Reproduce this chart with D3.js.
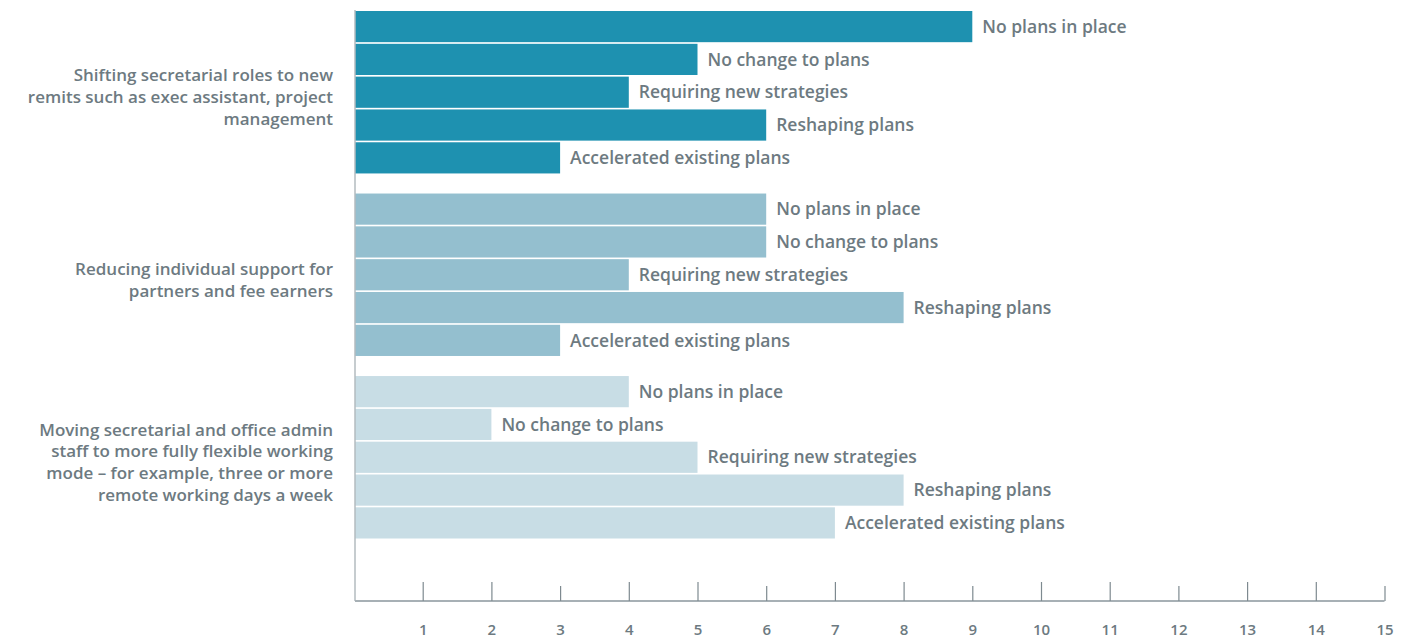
<!DOCTYPE html>
<html>
<head>
<meta charset="utf-8">
<script src="https://cdn.jsdelivr.net/npm/d3@7"></script>
<style>
  html, body { margin: 0; padding: 0; background: #fff; }
  svg { display: block; font-family: "Open Sans", Lato, sans-serif; }
</style>
</head>
<body>
<svg id="chart" width="1423" height="640"></svg>
<script>
// Initiatives (one group of bars each)
const initiatives = [
  ["Shifting secretarial roles to new", "remits such as exec assistant, project", "management"],
  ["Reducing individual support for", "partners and fee earners"],
  ["Moving secretarial and office admin", "staff to more fully flexible working", "mode – for example, three or more", "remote working days a week"]
];
// Planning status (one bar per status inside each group)
const statuses = ["No plans in place", "No change to plans", "Requiring new strategies", "Reshaping plans", "Accelerated existing plans"];
// Number of responses per status, by initiative
const shiftingRoles   = [9, 5, 4, 6, 3];
const reducingSupport = [6, 6, 4, 8, 3];
const flexibleWorking = [4, 2, 5, 8, 7];
const groupColors = ["#1e91b0", "#94bfcf", "#c8dde5"];
const tickValues = [1, 2, 3, 4, 5, 6, 7, 8, 9, 10, 11, 12, 13, 14, 15];

const seriesValues = [shiftingRoles, reducingSupport, flexibleWorking];
const svg = d3.select("#chart");
const textColor = "#6d7a81";

const x = d3.scaleLinear().domain([0, 15]).range([354, 1384.5]);
const yGroup = d3.scaleBand().domain(d3.range(initiatives.length)).range([11, 538.5]).paddingInner(0.11);
const yRow = d3.scaleBand().domain(statuses).range([0, yGroup.bandwidth()]).paddingInner(0.05);
const baseX = 355;

// bars and their status labels
seriesValues.forEach((vals, gi) => {
  const g = svg.append("g").attr("transform", `translate(0,${yGroup(gi)})`);
  const rows = statuses.map((s, i) => ({ status: s, value: vals[i] }));
  g.selectAll("rect").data(rows).join("rect")
    .attr("x", baseX)
    .attr("y", d => yRow(d.status))
    .attr("width", d => x(d.value) - baseX)
    .attr("height", yRow.bandwidth())
    .attr("fill", groupColors[gi]);
  g.selectAll("text").data(rows).join("text")
    .attr("x", d => x(d.value) + 10)
    .attr("y", d => yRow(d.status) + yRow.bandwidth() / 2)
    .attr("dy", "0.35em")
    .attr("fill", textColor)
    .attr("font-size", 17.5)
    .attr("font-weight", 600)
    .text(d => d.status);
});

// initiative labels on the left
initiatives.forEach((lines, gi) => {
  const lh = 21.7;
  const cy = yGroup(gi) + yGroup.bandwidth() / 2 + 5;
  const t = svg.append("text")
    .attr("text-anchor", "end")
    .attr("fill", textColor)
    .attr("font-size", 17)
    .attr("font-weight", 600);
  lines.forEach((ln, i) => {
    t.append("tspan")
      .attr("x", 333)
      .attr("y", cy + (i - (lines.length - 1) / 2) * lh)
      .attr("dy", "0.35em")
      .text(ln);
  });
});

// vertical baseline
svg.append("line")
  .attr("x1", baseX).attr("x2", baseX)
  .attr("y1", 10).attr("y2", 601)
  .attr("stroke", "#b3bbbf").attr("stroke-width", 1.5);

// bottom axis
const axis = d3.axisBottom(x).tickValues(tickValues).tickSize(0).tickPadding(0);
const ax = svg.append("g").attr("transform", "translate(0,601)").call(axis);
ax.select(".domain").attr("stroke", "#a7b0b5").attr("stroke-width", 2).attr("d", `M${baseX},0H${x(15)}`);
ax.selectAll(".tick line")
  .attr("stroke", "#7e8a90")
  .attr("stroke-width", 1.2)
  .attr("y2", d => d % 3 === 0 ? -15 : -19);
ax.selectAll(".tick text")
  .attr("y", 29)
  .attr("dy", "0.35em")
  .attr("fill", textColor)
  .attr("font-size", 15)
  .attr("font-weight", 600)
  .attr("font-family", "'Open Sans', sans-serif");
</script>
</body>
</html>
